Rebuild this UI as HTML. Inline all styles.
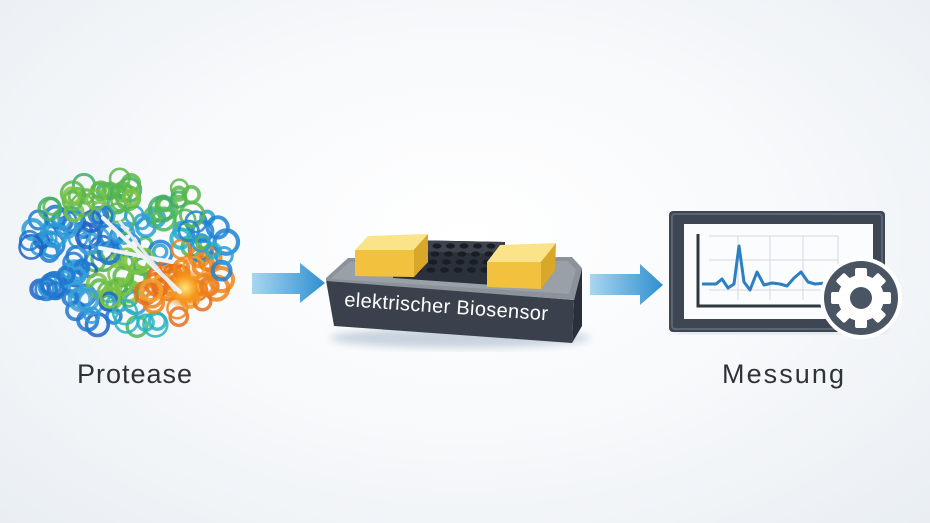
<!DOCTYPE html>
<html><head><meta charset="utf-8"><style>
html,body{margin:0;padding:0}
body{width:930px;height:523px;overflow:hidden;background:radial-gradient(ellipse at 50% 45%,#ffffff 0%,#f7f9fb 50%,#e9eef3 100%);font-family:"Liberation Sans",sans-serif}
</style></head><body>
<svg width="930" height="523" viewBox="0 0 930 523" xmlns="http://www.w3.org/2000/svg" style="position:absolute;left:0;top:0">
<defs>
<linearGradient id="ar" x1="0" x2="1"><stop offset="0" stop-color="#a9d6f0"/><stop offset="1" stop-color="#2f8fd0"/></linearGradient>
<radialGradient id="org" cx="0.5" cy="0.5" r="0.5"><stop offset="0" stop-color="#ffe27a"/><stop offset="0.5" stop-color="#f59a1c"/><stop offset="1" stop-color="#f07a10" stop-opacity="0"/></radialGradient>
<filter id="bl" x="-20%" y="-20%" width="140%" height="140%"><feGaussianBlur stdDeviation="4"/></filter>
</defs>
<g id="prot"></g>
<polygon points="252,273 300,273 300,263 325,283 300,303 300,294 252,294" fill="url(#ar)"/>
<polygon points="590,274 640,274 640,264 663,285 640,305 640,295 590,295" fill="url(#ar)"/>
<ellipse cx="460" cy="338" rx="130" ry="10" fill="#c8d3de" filter="url(#bl)"/>
<polygon points="326,280 574,300 572,343 334,326" fill="#3a414c"/>
<polygon points="574,300 582,268 582,326 572,343" fill="#2a3039"/>
<polygon points="326,278 348,258 572,257 582,268 574,300 326,281" fill="#8c929a"/>
<polygon points="332,277 350,262 568,261 576,270 569,294 332,279" fill="#9aa0a7"/>
<text x="0" y="0" font-size="20" fill="#fff" font-family="Liberation Sans, sans-serif" transform="translate(344,306) rotate(4)" textLength="204">elektrischer Biosensor</text>
<polygon points="393,250 405,240 505,242 505,272 493,285 393,278" fill="#2b313a"/>
<polygon points="393,250 405,240 505,242 493,254" fill="#3d444e"/>
<g id="holes" fill="#1a1e24"></g>
<polygon points="355,250 368,236 428,234 414,250" fill="#fbe38a"/>
<polygon points="355,250 414,250 414,277 355,276" fill="#f2c23f"/>
<polygon points="414,250 428,234 428,262 414,277" fill="#d9a82a"/>
<polygon points="487,262 500,245 556,243 541,262" fill="#fbe38a"/>
<polygon points="487,262 541,262 541,289 487,287" fill="#f2c23f"/>
<polygon points="541,262 556,243 555,270 541,289" fill="#d9a82a"/>
<rect x="676" y="318" width="210" height="14" fill="#c8d3de" filter="url(#bl)"/>
<rect x="669" y="211" width="216" height="121" rx="4" fill="#3d4652"/>
<rect x="672" y="214" width="210" height="115" rx="3" fill="none" stroke="#5b6674" stroke-width="2"/>
<rect x="684" y="224" width="189" height="95" fill="#fbfcfd"/>
<g stroke="#d5dae0" stroke-width="1" fill="none">
<line x1="709" y1="236" x2="838" y2="236"/><line x1="709" y1="260" x2="838" y2="260"/><line x1="709" y1="290" x2="838" y2="290"/>
<line x1="738" y1="236" x2="738" y2="300"/><line x1="770" y1="236" x2="770" y2="300"/><line x1="803" y1="236" x2="803" y2="300"/><line x1="838" y1="236" x2="838" y2="300"/>
</g>
<polyline points="698,234 698,306 830,306" fill="none" stroke="#2f3740" stroke-width="3"/>
<polyline points="702,284 716,284 722,279 728,288 734,284 739,246 744,282 750,290 757,272 764,285 772,283 780,284 787,286 794,278 801,272 808,282 815,284 826,283" fill="none" stroke="#2c7fc0" stroke-width="3" stroke-linejoin="round"/>
<circle cx="861" cy="298" r="41" fill="#fff"/>
<circle cx="861" cy="298" r="37" fill="#4a5563"/>
<g id="gear" fill="#fff"></g>
<circle cx="861" cy="298" r="11" fill="#4a5563"/>
<text x="77" y="383" font-size="27" fill="#2f3338" font-family="Liberation Sans, sans-serif" textLength="115">Protease</text>
<text x="722" y="383" font-size="27" fill="#2f3338" font-family="Liberation Sans, sans-serif" textLength="122">Messung</text>
</svg>
<script>
var ns="http://www.w3.org/2000/svg";
function el(p,t,a){var e=document.createElementNS(ns,t);for(var k in a)e.setAttribute(k,a[k]);p.appendChild(e);return e;}
var h=document.getElementById('holes');
for(var r=0;r<4;r++)for(var c=0;c<7;c++){el(h,'ellipse',{cx:410+c*13.5-r*2,cy:246+r*8,rx:4.5,ry:2.6});}
var g=document.getElementById('gear');
el(g,'circle',{cx:861,cy:298,r:23});
for(var i=0;i<8;i++){var a=i*45;el(g,'rect',{x:855,y:268,width:12,height:14,rx:2,transform:'rotate('+a+' 861 298)'});}
var p=document.getElementById('prot');
var s=7;function rnd(){s=(s*9301+49297)%233280;return s/233280;}
function col(x,y){
 var dx=x-185,dy=y-288,d=Math.sqrt(dx*dx+dy*dy);
 if(d<40) return ['#f0841a','#f5a032','#e8701a'][Math.floor(rnd()*3)];
 if(y<215||((x>90&&x<150)&&y<300&&y>255)) return ['#5bb84a','#3fae6a','#7cc242'][Math.floor(rnd()*3)];
 if(x<115) return ['#1e78d0','#2a9bd8','#1f63c4','#3aa0d8'][Math.floor(rnd()*4)];
 return ['#2a9fd6','#28b3c4','#1e82d2','#4cb85a'][Math.floor(rnd()*4)];
}
for(var i=0;i<260;i++){
 var x=28+rnd()*200,y=178+rnd()*150;
 var nx=(x-128)/100,ny=(y-253)/76; if(nx*nx+ny*ny>1.0) continue;
 if(x<60&&y>300) continue; if(x>205&&y<215) continue;
 var r=6+rnd()*6;
 el(p,'circle',{cx:x,cy:y,r:r,fill:'none',stroke:col(x,y),'stroke-width':2.5+rnd()*2,opacity:0.85});
}
el(p,'circle',{cx:185,cy:288,r:22,fill:'url(#org)'});
el(p,'line',{x1:100,y1:248,x2:172,y2:262,stroke:'#eef3f5','stroke-width':4,'stroke-linecap':'round'});
el(p,'line',{x1:103,y1:218,x2:180,y2:292,stroke:'#eef3f5','stroke-width':4,'stroke-linecap':'round'});
el(p,'line',{x1:120,y1:222,x2:175,y2:290,stroke:'#e3e9ec','stroke-width':3,'stroke-linecap':'round'});
</script>
</body></html>
